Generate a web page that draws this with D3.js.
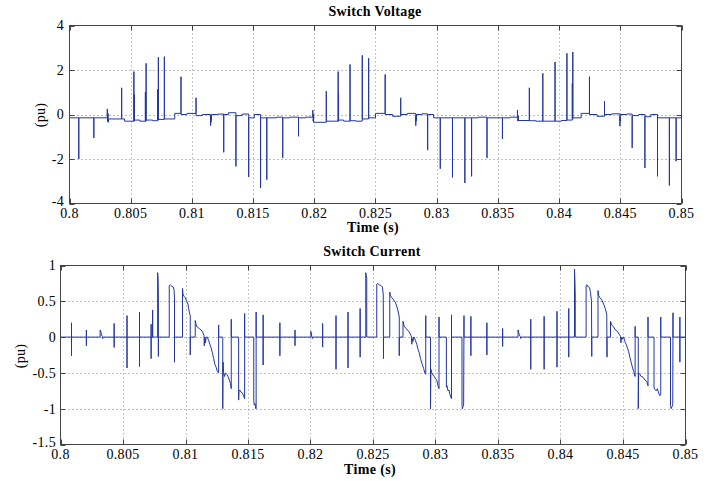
<!DOCTYPE html>
<html><head><meta charset="utf-8">
<script src="https://cdn.jsdelivr.net/npm/d3@7"></script>
<style>
html,body{margin:0;padding:0;background:#fff;}
text{font-family:"Liberation Serif","Times New Roman",serif;fill:#000;letter-spacing:0.35px;}
</style></head>
<body>
<svg id="chart" width="719" height="481"></svg>
<script>
// ---------- data ----------
const xTicks = [0.8,0.805,0.81,0.815,0.82,0.825,0.83,0.835,0.84,0.845,0.85];
const xTickLabels = ["0.8","0.805","0.81","0.815","0.82","0.825","0.83","0.835","0.84","0.845","0.85"];
const vTicks = [-4,-2,0,2,4];
const vTickLabels = ["-4","-2","0","2","4"];
const cTicks = [-1.5,-1,-0.5,0,0.5,1];
const cTickLabels = ["-1.5","-1","-0.5","0","0.5","1"];

// Switch voltage: [time, spike peak (null = plain step), level after]
const voltageStart = -0.15;
const voltageEvents = [
 [0.80076,-2.0,-0.15],
 [0.80199,-1.05,-0.15],
 [0.80309,0.25,-0.05],[0.80312,-0.32,-0.1],[0.80315,0.05,-0.25],[0.80318,-0.35,-0.2],
 [0.80426,1.2,-0.2],
 [0.80450,null,-0.3],
 [0.80526,1.93,-0.3],[0.80530,0.9,-0.25],
 [0.80575,null,-0.3],
 [0.80620,1.0,-0.3],[0.80626,2.3,-0.25],
 [0.80680,null,-0.28],
 [0.80720,1.13,-0.25],[0.80726,2.58,-0.22],
 [0.80775,2.6,-0.2],
 [0.80860,null,0.05],
 [0.80911,1.7,0.0],
 [0.80960,null,0.05],
 [0.81034,0.75,-0.05],
 [0.81085,null,0.0],
 [0.81153,-0.5,-0.1],[0.81156,-0.35,-0.05],[0.81160,-0.25,0.0],
 [0.81210,null,0.02],
 [0.81260,-1.7,0.0],
 [0.81300,null,0.08],
 [0.81360,-2.33,-0.05],
 [0.81410,null,0.02],
 [0.81464,-2.81,-0.15],
 [0.81510,null,0.0],
 [0.81561,-3.3,-0.15],
 [0.81612,-2.93,-0.15],
 [0.81690,null,-0.12],
 [0.81742,-1.95,-0.15],
 [0.81800,null,-0.12],
 [0.81871,-0.98,-0.15],
 [0.81930,null,-0.12],
 [0.81988,0.2,-0.1],[0.81991,-0.3,-0.2],[0.81994,0.0,-0.35],
 [0.82098,1.05,-0.3],
 [0.82195,1.93,-0.3],[0.82198,0.95,-0.25],
 [0.82240,null,-0.3],
 [0.82292,2.25,-0.28],
 [0.82340,null,-0.3],
 [0.82392,2.66,-0.2],
 [0.82444,2.53,-0.15],
 [0.82500,null,0.05],
 [0.82579,1.8,0.0],
 [0.82640,null,-0.08],
 [0.82706,0.75,0.0],
 [0.82760,null,0.05],
 [0.82829,-0.5,-0.1],[0.82832,-0.3,-0.02],[0.82835,-0.25,0.0],
 [0.82880,null,0.03],
 [0.82926,-1.6,0.0],
 [0.82975,null,-0.15],
 [0.83029,-2.44,-0.15],
 [0.83129,-2.83,-0.15],
 [0.83230,-3.08,-0.15],
 [0.83285,-2.78,-0.15],
 [0.83340,null,-0.12],
 [0.83411,-1.95,-0.15],
 [0.83537,-1.1,-0.15],
 [0.83600,null,-0.12],
 [0.83660,0.2,-0.15],[0.83663,-0.3,-0.25],[0.83666,-0.05,-0.27],
 [0.83757,1.2,-0.28],
 [0.83810,null,-0.3],
 [0.83867,1.85,-0.3],
 [0.83967,2.36,-0.3],
 [0.84020,null,-0.27],
 [0.84064,2.75,-0.25],
 [0.84108,1.4,-0.2],[0.84112,2.81,-0.15],
 [0.84180,null,0.05],
 [0.84248,1.7,0.0],
 [0.84310,null,-0.08],
 [0.84371,0.6,0.0],
 [0.84430,null,0.03],
 [0.84497,-0.52,-0.1],[0.84500,-0.3,0.0],
 [0.84550,null,0.02],
 [0.84597,-1.5,-0.05],
 [0.84650,null,0.0],
 [0.84701,-2.4,-0.1],
 [0.84750,null,0.0],
 [0.84804,-2.78,-0.15],
 [0.84901,-3.19,-0.15],
 [0.84956,-2.1,-0.15]
];

// Switch current: short spikes [time, high, low]
const currentSpikes = [
 [0.80088,0.2,-0.26],[0.80207,0.1,-0.12],[0.80429,0.19,-0.145],[0.80532,0.3,-0.43],
 [0.80632,0.35,-0.41],[0.80725,0.18,-0.3],[0.80737,0.38,0],
 [0.81621,0.31,-0.39],[0.81755,0.2,-0.26],[0.81876,0.1,-0.12],
 [0.82097,0.19,-0.14],[0.82204,0.3,-0.45],[0.82300,0.35,-0.43],[0.82397,0.4,-0.28],
 [0.83283,0.29,-0.26],[0.83411,0.2,-0.25],[0.83537,0.12,-0.13],
 [0.83762,0.25,-0.45],[0.83869,0.29,-0.45],[0.83972,0.36,-0.42],[0.84066,0.4,-0.28],
 [0.84955,0.28,-0.35]
];
// Switch current: conduction intervals, [time, value] vertices
const currentSegments = [
 [[0.80317,0],[0.80317,0.1],[0.80322,0.08],[0.80328,0.03],[0.80335,0.01],[0.80338,-0.02],[0.80342,0]],
 [[0.80777,0],[0.80777,0.9],[0.80780,0.84],[0.80783,0.6],[0.80783,-0.27],[0.80783,0]],
 [[0.80870,0],[0.80870,0.72],[0.80878,0.73],[0.80890,0.71],[0.80902,0.70],[0.80908,0.66],[0.80912,0.55],[0.80912,-0.35],[0.80912,0]],
 [[0.80976,0],[0.80976,0.68],[0.80980,0.6],[0.80988,0.57],[0.80998,0.55],[0.81010,0.5],[0.81020,0.46],[0.81030,0.35],[0.81038,0.3],[0.81038,-0.25],[0.81038,0]],
 [[0.81078,0],[0.81078,0.23],[0.81085,0.17],[0.81095,0.14],[0.81110,0.12],[0.81125,0.1],[0.81140,0.06],[0.81148,0.02],[0.81150,-0.12],[0.81155,0.0],[0.81160,-0.08],[0.81165,0]],
 [[0.81175,0],[0.81185,-0.05],[0.81195,-0.1],[0.81205,-0.15],[0.81215,-0.22],[0.81225,-0.3],[0.81235,-0.38],[0.81245,-0.42],[0.81255,-0.48],[0.81265,-0.5],[0.81265,0.17],[0.81265,0]],
 [[0.81298,0],[0.81298,-1.0],[0.81300,-0.35],[0.81305,-0.5],[0.81312,-0.55],[0.81320,-0.5],[0.81330,-0.52],[0.81340,-0.55],[0.81350,-0.6],[0.81360,-0.65],[0.81366,-0.72],[0.81366,0.25],[0.81366,0]],
 [[0.81425,0],[0.81425,-0.88],[0.81428,-0.75],[0.81435,-0.74],[0.81445,-0.77],[0.81455,-0.78],[0.81465,-0.82],[0.81473,-0.86],[0.81473,0.33],[0.81473,0]],
 [[0.81546,0],[0.81546,-0.88],[0.81550,-0.95],[0.81556,-0.93],[0.81562,-1.0],[0.81565,-1.0],[0.81565,0.35],[0.81565,0]],
 [[0.82003,0],[0.82003,0.08],[0.82008,0.03],[0.82012,0.0],[0.82015,-0.02],[0.82018,0]],
 [[0.82442,0],[0.82442,0.9],[0.82447,0.86],[0.82450,0.82],[0.82450,0]],
 [[0.82530,0],[0.82530,0.74],[0.82538,0.75],[0.82550,0.73],[0.82565,0.72],[0.82575,0.7],[0.82582,0.6],[0.82584,-0.3],[0.82584,0]],
 [[0.82634,0],[0.82634,0.63],[0.82640,0.58],[0.82650,0.55],[0.82665,0.52],[0.82680,0.48],[0.82692,0.42],[0.82702,0.35],[0.82710,0.28],[0.82710,-0.26],[0.82710,0]],
 [[0.82740,0],[0.82740,0.22],[0.82748,0.16],[0.82760,0.13],[0.82775,0.1],[0.82790,0.07],[0.82800,0.04],[0.82808,0.0],[0.82810,-0.1],[0.82815,-0.02],[0.82820,-0.06],[0.82825,0]],
 [[0.82830,0],[0.82840,-0.05],[0.82850,-0.1],[0.82860,-0.17],[0.82870,-0.22],[0.82880,-0.3],[0.82892,-0.37],[0.82905,-0.44],[0.82915,-0.5],[0.82922,-0.52],[0.82922,0.3],[0.82922,0]],
 [[0.82960,0],[0.82960,-1.0],[0.82963,-0.45],[0.82970,-0.5],[0.82980,-0.53],[0.82990,-0.55],[0.83000,-0.58],[0.83010,-0.6],[0.83020,-0.68],[0.83028,-0.72],[0.83028,0.28],[0.83028,0]],
 [[0.83087,0],[0.83087,-0.7],[0.83092,-0.68],[0.83100,-0.75],[0.83108,-0.74],[0.83115,-0.8],[0.83125,-0.85],[0.83128,-0.86],[0.83128,0.31],[0.83128,0]],
 [[0.83212,0],[0.83212,-0.95],[0.83215,-1.0],[0.83220,-0.97],[0.83225,-0.95],[0.83228,0.3],[0.83228,0]],
 [[0.83660,0],[0.83660,0.1],[0.83665,0.07],[0.83670,0.03],[0.83678,0.01],[0.83682,-0.02],[0.83686,0]],
 [[0.84112,0],[0.84112,0.95],[0.84115,0.8],[0.84118,0.6],[0.84118,0]],
 [[0.84205,0],[0.84205,0.72],[0.84212,0.73],[0.84222,0.7],[0.84232,0.69],[0.84240,0.62],[0.84248,0.5],[0.84250,-0.27],[0.84250,0]],
 [[0.84300,0],[0.84300,0.65],[0.84306,0.58],[0.84315,0.55],[0.84330,0.52],[0.84345,0.46],[0.84358,0.4],[0.84370,0.32],[0.84372,-0.28],[0.84372,0]],
 [[0.84400,0],[0.84400,0.22],[0.84410,0.17],[0.84425,0.14],[0.84440,0.1],[0.84455,0.08],[0.84470,0.04],[0.84480,0.01],[0.84483,-0.08],[0.84488,0],[0.84495,-0.03],[0.84500,0]],
 [[0.84505,0],[0.84515,-0.06],[0.84525,-0.1],[0.84535,-0.15],[0.84545,-0.2],[0.84555,-0.28],[0.84565,-0.35],[0.84575,-0.42],[0.84585,-0.48],[0.84597,-0.55],[0.84597,0.15],[0.84597,0]],
 [[0.84622,0],[0.84622,-1.0],[0.84625,-0.5],[0.84635,-0.52],[0.84645,-0.55],[0.84660,-0.56],[0.84675,-0.6],[0.84690,-0.62],[0.84700,-0.68],[0.84700,0.28],[0.84700,0]],
 [[0.84748,0],[0.84748,-0.7],[0.84755,-0.73],[0.84765,-0.75],[0.84775,-0.72],[0.84785,-0.78],[0.84795,-0.82],[0.84802,-0.8],[0.84802,0.28],[0.84802,0]],
 [[0.84880,0],[0.84880,-0.95],[0.84885,-1.0],[0.84892,-0.97],[0.84898,-0.95],[0.84900,0.34],[0.84900,0]]
];

// ---------- build polylines ----------
function voltagePoints(){
  const pts=[[0.8,voltageStart]]; let base=voltageStart;
  voltageEvents.forEach(([t,p,b])=>{
    pts.push([t,base]);
    if(p!==null) pts.push([t,p]);
    base=b; pts.push([t,base]);
  });
  pts.push([0.85,base]); return pts;
}
function currentPoints(){
  const ev=[];
  currentSpikes.forEach(([t,h,l])=>ev.push({t,pts:[[t,0],[t,h],[t,l],[t,0]]}));
  currentSegments.forEach(s=>ev.push({t:s[0][0],pts:[[s[0][0],0],...s,[s[s.length-1][0],0]]}));
  ev.sort((a,b)=>a.t-b.t);
  const pts=[[0.8,0]];
  ev.forEach(e=>pts.push(...e.pts));
  pts.push([0.85,0]); return pts;
}

// ---------- draw ----------
const svg=d3.select("#chart");
const FS=14;
function panel(o){
  const x=d3.scaleLinear().domain([0.8,0.85]).range([o.x0,o.x1]);
  const y=d3.scaleLinear().domain(o.dom).range([o.y1,o.y0]);
  const g=svg.append("g");
  const px=v=>Math.round(v)+0.5;
  // grid
  o.xt.forEach(t=>{ if(t>0.8&&t<0.85) g.append("line").attr("x1",px(x(t))).attr("x2",px(x(t))).attr("y1",o.y0).attr("y2",o.y1)
     .attr("stroke","#8c8c8c").attr("stroke-width",1).attr("stroke-dasharray","1,3"); });
  o.yt.forEach(t=>{ if(t>o.dom[0]&&t<o.dom[1]) g.append("line").attr("y1",px(y(t))).attr("y2",px(y(t))).attr("x1",o.x0).attr("x2",o.x1)
     .attr("stroke","#7a7a7a").attr("stroke-width",1).attr("stroke-dasharray","1,3"); });
  // data
  g.append("path").datum(o.pts).attr("fill","none").attr("stroke","#2236a0").attr("stroke-width",1)
    .attr("d",d3.line().x(d=>x(d[0])).y(d=>y(d[1])));
  // frame
  g.append("rect").attr("x",o.x0).attr("y",o.y0).attr("width",o.x1-o.x0).attr("height",o.y1-o.y0)
    .attr("fill","none").attr("stroke","#444").attr("stroke-width",1);
  // inward ticks
  const TL=5;
  o.xt.forEach(t=>{ const xx=px(x(t));
    g.append("line").attr("x1",xx).attr("x2",xx).attr("y1",o.y1).attr("y2",o.y1-TL).attr("stroke","#444");
    g.append("line").attr("x1",xx).attr("x2",xx).attr("y1",o.y0).attr("y2",o.y0+TL).attr("stroke","#444"); });
  o.yt.forEach(t=>{ const yy=px(y(t));
    g.append("line").attr("y1",yy).attr("y2",yy).attr("x1",o.x0).attr("x2",o.x0+TL).attr("stroke","#444");
    g.append("line").attr("y1",yy).attr("y2",yy).attr("x1",o.x1).attr("x2",o.x1-TL).attr("stroke","#444"); });
  // tick labels
  o.xt.forEach((t,i)=>g.append("text").attr("x",x(t)).attr("y",o.xlabY).attr("text-anchor","middle")
     .attr("font-size",FS).text(xTickLabels[i]));
  o.yt.forEach((t,i)=>g.append("text").attr("x",o.ylabX).attr("y",y(t)).attr("dy", i===0 ? "0.15em" : "0.35em").attr("text-anchor","end")
     .attr("font-size",FS).text(o.ytl[i]));
  // titles
  g.append("text").attr("x",o.titleX).attr("y",o.titleY).attr("text-anchor","middle").attr("font-size",FS)
    .attr("font-weight","bold").text(o.title);
  g.append("text").attr("x",o.xtitleX).attr("y",o.xtitleY).attr("text-anchor","middle").attr("font-size",FS)
    .attr("font-weight","bold").text("Time (s)");
  g.append("text").attr("transform",`translate(${o.ytitleX},${o.ytitleY}) rotate(-90)`).attr("text-anchor","middle")
    .attr("dy","0.35em").attr("font-size",FS).text("(pu)");
}

panel({x0:69.5,x1:681.5,y0:25.5,y1:203.5,dom:[-4,4],xt:xTicks,yt:vTicks,ytl:vTickLabels,pts:voltagePoints(),
  xlabY:218,ylabX:64,title:"Switch Voltage",titleX:375,titleY:16,xtitleX:373,xtitleY:232,ytitleX:40,ytitleY:115});
panel({x0:60.5,x1:685.5,y0:265.5,y1:444.5,dom:[-1.5,1],xt:xTicks,yt:cTicks,ytl:cTickLabels,pts:currentPoints(),
  xlabY:459,ylabX:56,title:"Switch Current",titleX:372,titleY:256,xtitleX:370,xtitleY:474,ytitleX:20,ytitleY:356});
</script>
</body></html>
